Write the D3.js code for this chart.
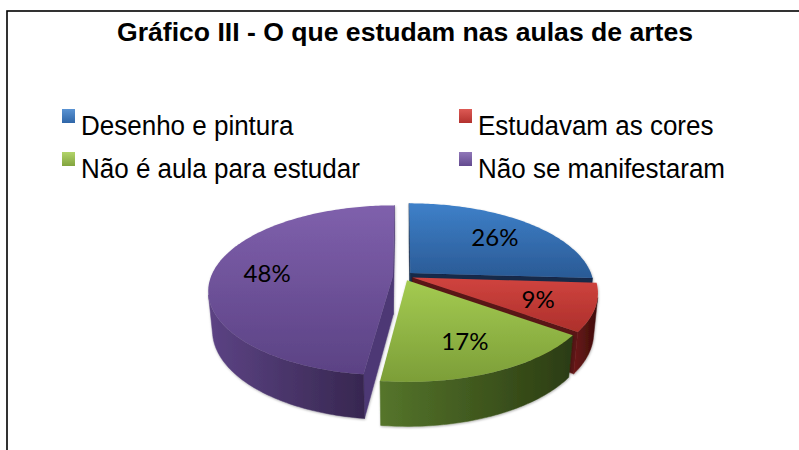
<!DOCTYPE html>
<html>
<head>
<meta charset="utf-8">
<script src="https://cdn.jsdelivr.net/npm/d3@7"></script>
<style>
  body { margin: 0; background: #fff; }
  svg { display: block; }
</style>
</head>
<body>
<svg id="chart" width="799" height="450"></svg>
<script>
const title = "Gráfico III - O que estudam nas aulas de artes";
const categories = ["Desenho e pintura", "Estudavam as cores", "Não é aula para estudar", "Não se manifestaram"];
const values = [26, 9, 17, 48];
const labels = ["26%", "9%", "17%", "48%"];

// [light, dark] per slice
const topColors  = [["#3e80c9", "#2a5a95"], ["#d0443f", "#ad2f2b"], ["#a4cb51", "#7c9e38"], ["#7f60ac", "#5b4284"]];
const wallColors = [["#24456f", "#152a47"], ["#6c1a18", "#3d0c0b"], ["#55752b", "#2b3c12"], ["#5c4384", "#372750"]];
const cutColors  = ["#13294a", "#5a1513", "#4a6620", "#4d3875"];
const keyColors  = [["#5a93d3", "#2f66a8"], ["#dd5a55", "#b3322e"], ["#b2d46a", "#82a43e"], ["#9077b8", "#634a8f"]];

const svg = d3.select("#chart");
const defs = svg.append("defs");

// frame
svg.append("rect")
    .attr("x", 7).attr("y", 11)
    .attr("width", 820).attr("height", 460)
    .attr("fill", "none").attr("stroke", "#000").attr("stroke-width", 1.6);

svg.append("text")
    .attr("x", 405).attr("y", 41)
    .attr("text-anchor", "middle")
    .attr("font-family", "'Liberation Sans', Arial, sans-serif")
    .attr("font-weight", "bold")
    .attr("font-size", 25)
    .attr("textLength", 576)
    .attr("lengthAdjust", "spacingAndGlyphs")
    .text(title);

let gradId = 0;
function vGrad(c0, c1, y0, y1) {
    const id = "g" + (gradId++);
    const g = defs.append("linearGradient").attr("id", id)
        .attr("gradientUnits", "userSpaceOnUse")
        .attr("x1", 0).attr("x2", 0).attr("y1", y0).attr("y2", y1);
    g.append("stop").attr("offset", 0).attr("stop-color", c0);
    g.append("stop").attr("offset", 1).attr("stop-color", c1);
    return `url(#${id})`;
}
function hGrad(c0, c1, x0, x1) {
    const id = "g" + (gradId++);
    const g = defs.append("linearGradient").attr("id", id)
        .attr("gradientUnits", "userSpaceOnUse")
        .attr("y1", 0).attr("y2", 0).attr("x1", x0).attr("x2", x1);
    g.append("stop").attr("offset", 0).attr("stop-color", c0);
    g.append("stop").attr("offset", 1).attr("stop-color", c1);
    return `url(#${id})`;
}

// legend, 2 columns
const legendX = d3.scalePoint().domain([0, 1]).range([62, 459]);
const legendY = d3.scalePoint().domain([0, 1]).range([109, 152]);
categories.forEach((c, i) => {
    const x = legendX(i % 2), y = legendY(Math.floor(i / 2));
    svg.append("rect")
        .attr("x", x).attr("y", y).attr("width", 13).attr("height", 14)
        .attr("fill", vGrad(keyColors[i][0], keyColors[i][1], y, y + 14));
    svg.append("text")
        .attr("transform", `translate(${x + 19},${y + 26}) scale(1,1.06)`)
        .attr("font-family", "'Liberation Sans', Arial, sans-serif")
        .attr("font-size", 26)
        .text(c);
});

// 3d pie projection (unit radius, camera tilted down)
const cx = 403, cy = 276, focal = 940, dist = 5.17;
const tilt = 27 * Math.PI / 180;
const depth = 0.245, explode = 0.055;
const sinT = Math.sin(tilt), cosT = Math.cos(tilt);
const cam = [0, dist * sinT, -dist * cosT];

function project(x, y, z) {
    const yc = y * cosT + z * sinT;
    const zc = dist + z * cosT - y * sinT;
    return [cx + focal * x / zc, cy - focal * yc / zc];
}

const arcs = d3.pie().sort(null).value(d => d)(values);
const line = d3.line();

const shadow = defs.append("filter").attr("id", "shadow")
    .attr("x", "-10%").attr("y", "-10%").attr("width", "120%").attr("height", "120%");
shadow.append("feDropShadow").attr("dx", 0.5).attr("dy", 1)
    .attr("stdDeviation", 1.3).attr("flood-color", "#000").attr("flood-opacity", 0.3);

const slices = arcs.map((d, i) => {
    const mid = (d.startAngle + d.endAngle) / 2;
    const ex = explode * Math.sin(mid), ez = explode * Math.cos(mid);
    const world = (th, r, y) => [ex + r * Math.sin(th), y, ez + r * Math.cos(th)];
    const pt = (th, r, y) => project(...world(th, r, y));
    const cz = ez + 0.5 * Math.cos(mid);
    return {d, i, mid, world, pt, order: dist + cz * cosT};
});

function facesCam(P, n) {
    return n[0] * (cam[0] - P[0]) + n[1] * (cam[1] - P[1]) + n[2] * (cam[2] - P[2]) > 0;
}

// back to front
slices.slice().sort((a, b) => b.order - a.order).forEach(s => {
    const {d, i, world, pt} = s;
    const a = d.startAngle, b = d.endAngle;
    const n = Math.max(8, Math.ceil((b - a) / (Math.PI / 180)));
    const step = (b - a) / n;
    const g = svg.append("g").attr("filter", "url(#shadow)");

    // radial cut walls
    [[a, [-Math.cos(a), 0, Math.sin(a)]], [b, [Math.cos(b), 0, -Math.sin(b)]]].forEach(([th, nrm]) => {
        if (!facesCam(world(th, 0.5, -depth / 2), nrm)) return;
        const pts = [pt(th, 0, 0), pt(th, 1, 0), pt(th, 1, -depth), pt(th, 0, -depth)];
        g.append("path").attr("d", line(pts) + "Z")
            .attr("fill", cutColors[i]).attr("stroke", cutColors[i]).attr("stroke-width", 0.5);
    });

    // outer wall, visible runs only
    const vis = d3.range(n).map(k => {
        const th = a + (k + 0.5) * step;
        return facesCam(world(th, 1, -depth / 2), [Math.sin(th), 0, Math.cos(th)]);
    });
    let k = 0;
    while (k < n) {
        if (!vis[k]) { k++; continue; }
        let k1 = k;
        while (k1 + 1 < n && vis[k1 + 1]) k1++;
        const ths = d3.range(k, k1 + 2).map(j => a + j * step);
        const pts = ths.map(th => pt(th, 1, 0)).concat(ths.slice().reverse().map(th => pt(th, 1, -depth)));
        const [x0, x1] = d3.extent(pts, p => p[0]);
        const fill = hGrad(wallColors[i][0], wallColors[i][1], x0, x1);
        g.append("path").attr("d", line(pts) + "Z")
            .attr("fill", fill).attr("stroke", fill).attr("stroke-width", 0.5);
        k = k1 + 1;
    }

    // top face
    const topPts = [pt(a, 0, 0)].concat(d3.range(n + 1).map(j => pt(a + j * step, 1, 0)));
    const [y0, y1] = d3.extent(topPts, p => p[1]);
    g.append("path").attr("d", line(topPts) + "Z")
        .attr("fill", vGrad(topColors[i][0], topColors[i][1], y0, y1));
});

// data labels
const labelR = 0.7;
slices.forEach(s => {
    const p = s.pt(s.mid, labelR, 0);
    svg.append("text")
        .attr("x", p[0]).attr("y", p[1])
        .attr("text-anchor", "middle")
        .attr("dominant-baseline", "central")
        .attr("font-family", "Lato, 'Open Sans', sans-serif")
        .attr("font-size", 24)
        .text(labels[s.i]);
});
</script>
</body>
</html>
